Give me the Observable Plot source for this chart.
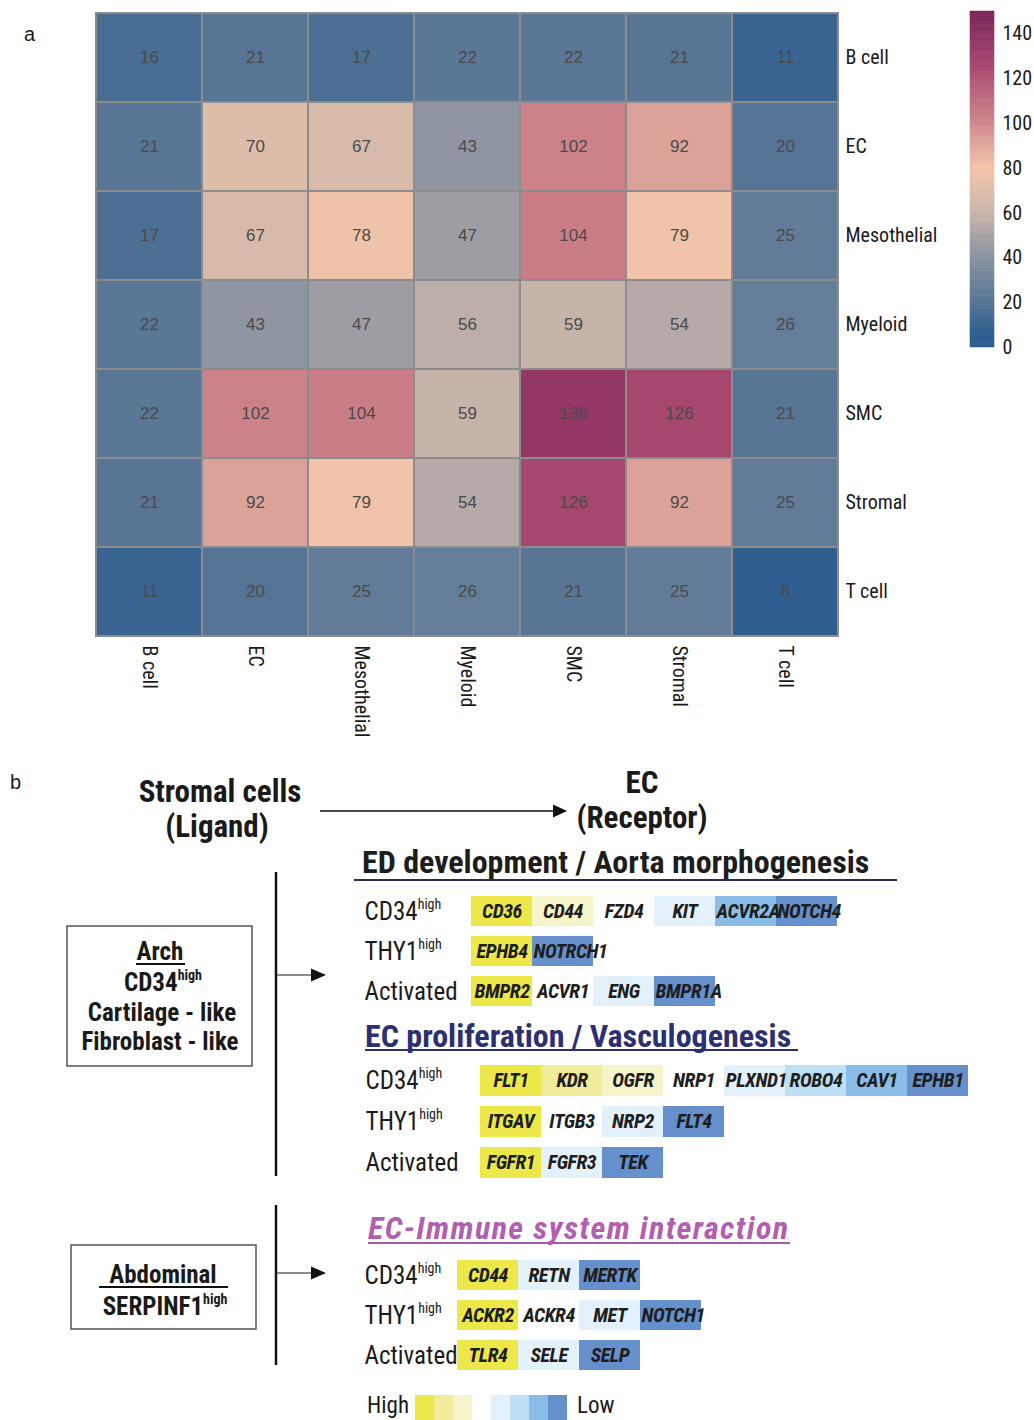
<!DOCTYPE html>
<html><head><meta charset="utf-8">
<script src="https://cdn.jsdelivr.net/npm/d3@7"></script>
<script src="https://cdn.jsdelivr.net/npm/@observablehq/plot@0.6"></script>
<style>
body{margin:0;background:#fff;}
#fig{position:relative;width:1034px;height:1420px;overflow:hidden;background:#fff;}
</style></head><body><div id="fig"></div>
<script>
// ---------- DATA ----------
const cellTypes = ["B cell","EC","Mesothelial","Myeloid","SMC","Stromal","T cell"];
const counts = [
  [16,21,17,22,22,21,11],
  [21,70,67,43,102,92,20],
  [17,67,78,47,104,79,25],
  [22,43,47,56,59,54,26],
  [22,102,104,59,136,126,21],
  [21,92,79,54,126,92,25],
  [11,20,25,26,21,25,8]
];
const colorTicks = [0,20,40,60,80,100,120,140];
const colorStops = [0, 8, 20, 43, 60, 80, 92, 102, 126, 150];
const colorRange = ["#2a5a8c","#2f5f8f","#557495","#9096a1","#c9b5ab","#f3c4a8","#dca29a","#cd8289","#a5476f","#7a2357"];

const rowLabels = ["CD34^high","THY1^high","Activated"];
const levelNames = ["h1","h2","h3","l1","l2","l3","l4"];
const levelColors = ["#ece84a","#f1ec9c","#f6f4c9","#e3f1fb","#bde0f5","#89bce6","#6590cc"];

const edGenes = [["CD36","CD44","FZD4","KIT","ACVR2A","NOTCH4"],["EPHB4","NOTRCH1"],["BMPR2","ACVR1","ENG","BMPR1A"]];
const edLevels = [["h1","h3","none","l1","l3","l4"],["h1","l4"],["h1","none","l1","l4"]];
const prolGenes = [["FLT1","KDR","OGFR","NRP1","PLXND1","ROBO4","CAV1","EPHB1"],["ITGAV","ITGB3","NRP2","FLT4"],["FGFR1","FGFR3","TEK"]];
const prolLevels = [["h1","h2","h3","none","l1","l2","l3","l4"],["h1","none","l1","l4"],["h1","l1","l4"]];
const immGenes = [["CD44","RETN","MERTK"],["ACKR2","ACKR4","MET","NOTCH1"],["TLR4","SELE","SELP"]];
const immLevels = [["h1","l1","l4"],["h1","none","l1","l4"],["h1","l1","l4"]];
const legendLevels = ["h1","h2","h3","none","l1","l2","l3","l4"];

// ---------- SETUP ----------
const NARROW = '"Liberation Sans Narrow","Arial Narrow","Roboto Condensed","DejaVu Sans Condensed",sans-serif';
const SANS = '"Liberation Sans",Arial,Helvetica,sans-serif';
const fig = document.getElementById("fig");
function place(node, left, top){ node.style.position="absolute"; node.style.left=left+"px"; node.style.top=top+"px"; fig.appendChild(node); return node; }
function applySup(root){
  d3.select(root).selectAll("text").each(function(){
    const t = this.textContent;
    if (t.includes("^")) {
      const [base, sup] = t.split("^");
      const s = d3.select(this); s.text(base);
      s.append("tspan").attr("font-size","0.56em").attr("dy","-0.78em").text(sup);
    }
  });
}
const colorScale = {type:"linear", domain: colorStops, range: colorRange, interpolate:"rgb", clamp:true};

// ---------- PANEL A: heatmap ----------
const heatData = cellTypes.flatMap((src,i)=>cellTypes.map((tgt,j)=>({source:src,target:tgt,value:counts[i][j]})));
const heat = Plot.plot({
  width: 960, height: 740,
  marginLeft: 96, marginRight: 122, marginTop: 11, marginBottom: 103,
  style: {fontFamily: NARROW, fontSize: "20px", color: "#1a1a1a", background: "transparent", overflow:"visible"},
  x: {domain: cellTypes, padding: 0, axis: "bottom", tickRotate: 90, tickSize: 0, tickPadding: 8, label: null},
  y: {domain: cellTypes, padding: 0, axis: "right", tickSize: 0, tickPadding: 7, label: null},
  color: colorScale,
  marks: [
    Plot.cell(heatData, {x:"target", y:"source", fill:"value", stroke:"#8c8c8c", strokeWidth:2, inset:0}),
    Plot.text(heatData, {x:"target", y:"source", text:d=>String(d.value), fill:"#4a4a4a", fontSize:17, fontFamily:SANS})
  ]
});
place(heat, 0, 0);

// colour bar
const rampVals = d3.range(0, 150, 1);
const bar = Plot.plot({
  width: 74, height: 360, marginLeft: 10, marginRight: 40, marginTop: 11, marginBottom: 13,
  style: {fontFamily: NARROW, fontSize: "20px", color: "#1a1a1a", background: "transparent", overflow:"visible"},
  x: {domain:[0,1], axis:null},
  y: {domain:[0,150], axis:"right", ticks: colorTicks, tickSize:0, tickPadding:8, label:null},
  color: colorScale,
  marks: [ Plot.rect(rampVals, {x1:0, x2:1, y1:d=>d, y2:d=>d+1, fill:d=>d+0.5, stroke:d=>d+0.5, strokeWidth:0.5}) ]
});
place(bar, 960, 0);

// ---------- PANEL B: gene tiles ----------
const slotW = 61;
function tilePlot(genes, levels, startX, top, height, labelX){
  const data = [];
  genes.forEach((row,r)=>row.forEach((g,i)=>data.push({row: rowLabels[r], slot: i, gene: g, level: levels[r][i]})));
  const p = Plot.plot({
    width: 1034, height: height,
    marginLeft: startX, marginRight: 1034 - startX - 10*slotW, marginTop: 0, marginBottom: 0,
    style: {background:"transparent", overflow:"visible"},
    x: {domain:[0,10], axis:null},
    y: {domain: rowLabels, padding: 0.25, axis:null},
    color: {type:"ordinal", domain: levelNames, range: levelColors},
    marks: [
      Plot.barX(data.filter(d=>d.level!=="none"), {x1:"slot", x2:d=>d.slot+1, y:"row", fill:"level", inset:0}),
      Plot.text(data, {x:d=>d.slot+0.5, y:"row", text:"gene", className:"gene", fontWeight:"bold", fontStyle:"italic", fontSize:20, fontFamily:NARROW, fill:"#1e1e1e"}),
      Plot.text(rowLabels, {y:d=>d, text:d=>d, frameAnchor:"left", textAnchor:"start", dx: labelX - startX, fontSize:25, fontFamily:NARROW, fill:"#1a1a1a"})
    ]
  });
  applySup(p);
  place(p, 0, top);
  d3.select(p).selectAll("g.gene text").attr("letter-spacing", -0.4).each(function(){
    const w = this.getComputedTextLength();
    const shift = w/2 - (slotW/2 - 1);
    if (shift > 0) d3.select(this).attr("dx", shift);
  });
  return p;
}
tilePlot(edGenes, edLevels, 471, 885, 132, 364);
tilePlot(prolGenes, prolLevels, 480, 1054, 135, 365);
tilePlot(immGenes, immLevels, 457, 1249, 132, 364);

// legend swatches
const leg = Plot.plot({
  width: 1034, height: 26, marginLeft: 415, marginRight: 1034-415-8*19, marginTop:0, marginBottom:0,
  style:{background:"transparent", overflow:"visible"},
  x:{domain:[0,8], axis:null},
  color:{type:"ordinal", domain: levelNames, range: levelColors},
  marks:[ Plot.barX(legendLevels.map((l,i)=>({l,i})).filter(d=>d.l!=="none"), {x1:"i", x2:d=>d.i+1, fill:"l"}) ]
});
place(leg, 0, 1395);

// ---------- decorations / labels ----------
const svg = d3.create("svg").attr("width",1034).attr("height",1420)
  .style("position","absolute").style("left","0px").style("top","0px").style("pointer-events","none");
function txt(x, y, s, o={}){
  const t = svg.append("text").attr("x",x).attr("y",y).attr("dy","0.35em")
    .attr("font-family", o.family||NARROW).attr("font-size", o.size||26)
    .attr("font-weight", o.weight||"normal").attr("font-style", o.style||"normal")
    .attr("fill", o.fill||"#1a1a1a").attr("text-anchor", o.anchor||"start");
  if (o.spacing) t.attr("letter-spacing", o.spacing);
  if (s.includes("^")) { const [a,b]=s.split("^"); t.text(a); t.append("tspan").attr("font-size","0.56em").attr("dy","-0.78em").text(b); }
  else t.text(s);
  return t;
}
function line(x1,y1,x2,y2,stroke,w){ svg.append("line").attr("x1",x1).attr("y1",y1).attr("x2",x2).attr("y2",y2).attr("stroke",stroke).attr("stroke-width",w); }
function head(x,y,len,half){ svg.append("path").attr("d",`M${x-len},${y-half}L${x},${y}L${x-len},${y+half}Z`).attr("fill","#111"); }

txt(24, 34, "a", {family:SANS, size:20});
txt(10, 782, "b", {family:SANS, size:20});

txt(220, 791, "Stromal cells", {size:31, weight:"bold", anchor:"middle"});
txt(217, 826, "(Ligand)", {size:31, weight:"bold", anchor:"middle"});
txt(642, 782, "EC", {size:31, weight:"bold", anchor:"middle"});
txt(642, 817, "(Receptor)", {size:31, weight:"bold", anchor:"middle"});
line(320, 811, 554, 811, "#111", 1.5); head(567, 811, 14, 6.5);

txt(362, 862, "ED development / Aorta morphogenesis", {size:32, weight:"bold", fill:"#1d1d1d"});
line(354, 880, 897, 880, "#2b2a5c", 2);
txt(365, 1036, "EC proliferation / Vasculogenesis", {size:32, weight:"bold", fill:"#2d3070"});
line(365, 1050, 798, 1050, "#2d3070", 2);
txt(368, 1228, "EC-Immune system interaction", {size:32, weight:"bold", style:"italic", fill:"#b25fb2", spacing:1.4});
line(368, 1243, 790, 1243, "#a85dab", 2);

// brackets and arrows
line(276, 872, 276, 1176, "#111", 2.5);
line(277, 975, 312, 975, "#666", 1.5); head(326, 975, 15, 6.5);
line(276, 1205, 276, 1365, "#111", 2.5);
line(277, 1273, 312, 1273, "#666", 1.5); head(326, 1273, 15, 6.5);

// boxes
svg.append("rect").attr("x",67).attr("y",926).attr("width",185).attr("height",140).attr("fill","none").attr("stroke","#555").attr("stroke-width",1.5);
txt(160, 951, "Arch", {size:25, weight:"bold", anchor:"middle"});
line(136, 964, 185, 964, "#111", 2);
txt(163, 982, "CD34^high", {size:25, weight:"bold", anchor:"middle"});
txt(162, 1012, "Cartilage - like", {size:25, weight:"bold", anchor:"middle"});
txt(160, 1041, "Fibroblast - like", {size:25, weight:"bold", anchor:"middle"});

svg.append("rect").attr("x",71).attr("y",1245).attr("width",185).attr("height",84).attr("fill","none").attr("stroke","#555").attr("stroke-width",1.5);
txt(163, 1274, "Abdominal", {size:25, weight:"bold", anchor:"middle"});
line(99, 1287, 228, 1287, "#111", 2);
txt(165, 1306, "SERPINF1^high", {size:25, weight:"bold", anchor:"middle"});

// legend text
txt(367, 1405, "High", {size:23});
txt(577, 1405, "Low", {size:23});

fig.appendChild(svg.node());
</script></body></html>
